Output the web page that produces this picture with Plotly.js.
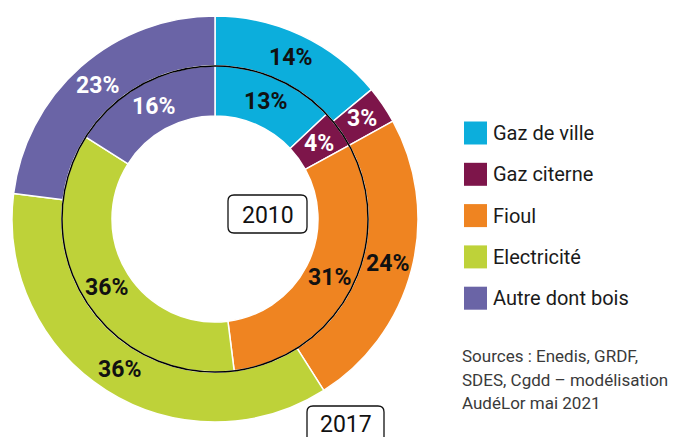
<!DOCTYPE html>
<html><head><meta charset="utf-8">
<script src="https://cdn.plot.ly/plotly-3.0.1.min.js"></script>
<style>html,body{margin:0;padding:0;background:#fff}#chart{width:687px;height:437px}</style>
</head><body><div id="chart"></div>
<script>
var categories = ["Gaz de ville", "Gaz citerne", "Fioul", "Electricité", "Autre dont bois"];
var colors = ["#0caedc", "#7d154a", "#ef8421", "#bed239", "#6a64a6"];
var values2017 = [14, 3, 24, 36, 23];
var values2010 = [13, 4, 31, 36, 16];
var labelColors = ["#111", "#fff", "#111", "#111", "#fff"];
var yearLabels = ["2010", "2017"];
var sourceLines = ["Sources : Enedis, GRDF,", "SDES, Cgdd – modélisation", "AudéLor mai 2021"];

var W = 687, H = 437;
var cx = 215, cy = 219, rOuter = 203, rMid = 153, rInner = 103;
function px(x){ return x / W; }
function py(y){ return 1 - y / H; }
var FONT = "Roboto, 'Open Sans', sans-serif";

var traceOuter = {
  type: "pie", labels: categories, values: values2017, sort: false, direction: "clockwise",
  hole: rMid / rOuter, textinfo: "none", hoverinfo: "skip", showlegend: false,
  marker: {colors: colors, line: {color: "#fff", width: 1.5}},
  domain: {x: [px(cx - rOuter), px(cx + rOuter)], y: [py(cy + rOuter), py(cy - rOuter)]}
};
var traceInner = {
  type: "pie", labels: categories, values: values2010, sort: false, direction: "clockwise",
  hole: rInner / rMid, textinfo: "none", hoverinfo: "skip", showlegend: false,
  marker: {colors: colors, line: {color: "#fff", width: 1.5}},
  domain: {x: [px(cx - rMid), px(cx + rMid)], y: [py(cy + rMid), py(cy - rMid)]}
};

var annotations = [];
function ringLabels(vals, r) {
  var total = vals.reduce(function(a,b){return a+b;}, 0), cum = 0;
  vals.forEach(function(v, i){
    var th = (cum + v/2) / total * 2 * Math.PI;
    cum += v;
    annotations.push({xref:"paper", yref:"paper", x: px(cx + r*Math.sin(th)), y: py(cy - r*Math.cos(th)),
      text: "<b>" + v + "%</b>", showarrow: false, xanchor: "center", yanchor: "middle",
      font: {family: FONT, size: 23, color: labelColors[i]}});
  });
}
ringLabels(values2017, (rOuter + rMid)/2);
ringLabels(values2010, (rMid + rInner)/2);

var shapes = [];
shapes.push({type: "circle", xref: "paper", yref: "paper", x0: px(cx - rMid), x1: px(cx + rMid),
  y0: py(cy + rMid), y1: py(cy - rMid), line: {color: "#000", width: 1.5}, layer: "above"});

function roundRect(x0, y0, x1, y1, r) {
  return "M" + px(x0 + r) + "," + py(y0) +
    " L" + px(x1 - r) + "," + py(y0) +
    " Q" + px(x1) + "," + py(y0) + " " + px(x1) + "," + py(y0 + r) +
    " L" + px(x1) + "," + py(y1 - r) +
    " Q" + px(x1) + "," + py(y1) + " " + px(x1 - r) + "," + py(y1) +
    " L" + px(x0 + r) + "," + py(y1) +
    " Q" + px(x0) + "," + py(y1) + " " + px(x0) + "," + py(y1 - r) +
    " L" + px(x0) + "," + py(y0 + r) +
    " Q" + px(x0) + "," + py(y0) + " " + px(x0 + r) + "," + py(y0) + " Z";
}
shapes.push({type: "path", xref: "paper", yref: "paper", path: roundRect(228, 195, 307, 233, 6),
  line: {color: "#111", width: 1.3}, fillcolor: "#fff", layer: "above"});
shapes.push({type: "path", xref: "paper", yref: "paper", path: roundRect(307, 406, 384, 460, 6),
  line: {color: "#111", width: 1.3}, fillcolor: "#fff", layer: "above"});
annotations.push({xref:"paper", yref:"paper", x: px(267.5), y: py(215), text: yearLabels[0], showarrow:false,
  xanchor:"center", yanchor:"middle", font:{family: FONT, size: 23, color: "#111"}});
annotations.push({xref:"paper", yref:"paper", x: px(345.5), y: py(424), text: yearLabels[1], showarrow:false,
  xanchor:"center", yanchor:"middle", font:{family: FONT, size: 23, color: "#111"}});

// legend
categories.forEach(function(c, i){
  var yc = 133 + i * 41.3;
  shapes.push({type: "rect", xref: "paper", yref: "paper", x0: px(464), x1: px(487),
    y0: py(yc + 11.5), y1: py(yc - 11.5), fillcolor: colors[i], line: {width: 0}});
  annotations.push({xref:"paper", yref:"paper", x: px(491), y: py(yc), text: c, showarrow:false,
    xanchor:"left", yanchor:"middle", font:{family: FONT, size: 20, color: "#1a1a1a"}});
});
sourceLines.forEach(function(t, i){
  annotations.push({xref:"paper", yref:"paper", x: px(460), y: py(356 + i * 23.5), text: t, showarrow:false,
    xanchor:"left", yanchor:"middle", align:"left", font:{family: FONT, size: 17, color: "#3a3a3a"}});
});

Plotly.newPlot("chart", [traceOuter, traceInner], {
  width: W, height: H, margin: {l:0, r:0, t:0, b:0}, paper_bgcolor: "#fff",
  showlegend: false, shapes: shapes, annotations: annotations
}, {displayModeBar: false, staticPlot: true});
</script></body></html>
